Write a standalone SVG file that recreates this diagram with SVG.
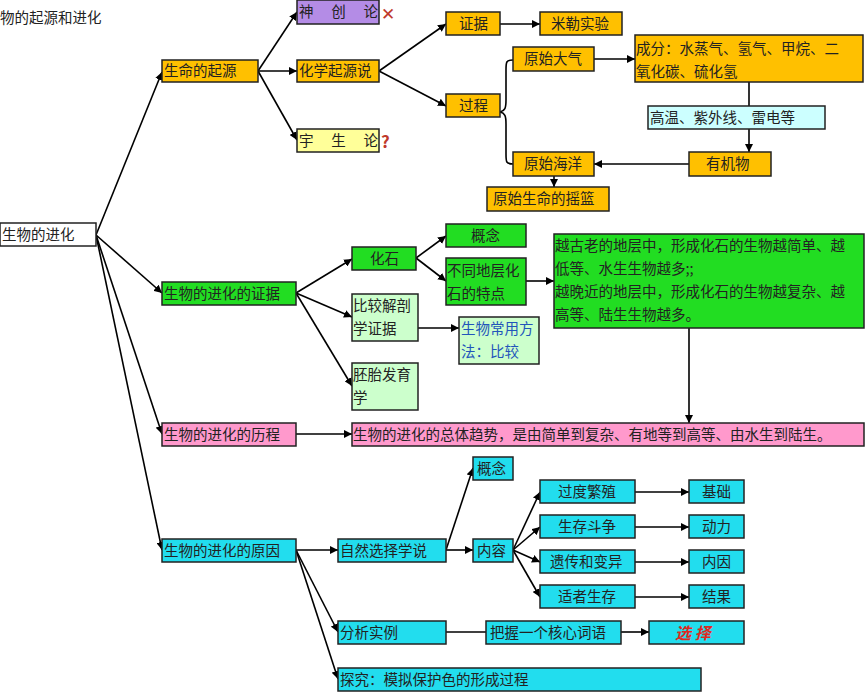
<svg xmlns="http://www.w3.org/2000/svg" width="866" height="693" viewBox="0 0 866 693">
<defs>
<marker id="ah" viewBox="0 0 10 10" refX="10" refY="5" markerWidth="8" markerHeight="8" markerUnits="userSpaceOnUse" orient="auto"><path d="M0,0 L10,5 L0,10 z" fill="#000"/></marker>
<style>
text{font-family:"Noto Sans CJK SC","Noto Sans",sans-serif;font-size:14.5px;fill:#222}
rect{stroke:#222;stroke-width:1.5}
.o{fill:#FFC000}.p{fill:#B48CE6}.y{fill:#FFFF99}.lc{fill:#CCFFFF}.g{fill:#22DD22}.lg{fill:#CCFFCC}.pk{fill:#FF99CC}.c{fill:#22DDEE}.w{fill:#fff}
.cn line,.cn path,.cn polyline{stroke:#000;stroke-width:1.6;fill:none}
.a{marker-end:url(#ah)}
</style>
</defs>
<text x="0" y="23">物的起源和进化</text>
<g class="cn">
<line class="a" x1="96" y1="235" x2="162" y2="72"/>
<line class="a" x1="96" y1="235" x2="162" y2="293"/>
<line class="a" x1="96" y1="235" x2="162" y2="434"/>
<line class="a" x1="96" y1="235" x2="162" y2="550"/>
<line class="a" x1="258" y1="71" x2="297" y2="12"/>
<line class="a" x1="258" y1="71" x2="297" y2="71"/>
<line class="a" x1="258" y1="71" x2="297" y2="140"/>
<line class="a" x1="379" y1="71" x2="446" y2="24"/>
<line class="a" x1="379" y1="71" x2="446" y2="106"/>
<line class="a" x1="500" y1="24" x2="540" y2="24"/>
<path d="M513,60 C506,60 506,62 506,70 L506,100 C506,108 505,111 500,112 C505,113 506,116 506,124 L506,154 C506,162 506,164 513,164"/>
<line class="a" x1="594" y1="59" x2="635" y2="59"/>
<line class="a" x1="749" y1="82" x2="749" y2="152"/>
<line class="a" x1="689" y1="164" x2="594" y2="164"/>
<line class="a" x1="554" y1="176" x2="554" y2="187"/>
<line class="a" x1="296" y1="293" x2="352" y2="259"/>
<line class="a" x1="296" y1="293" x2="352" y2="317"/>
<line class="a" x1="296" y1="293" x2="352" y2="386"/>
<line class="a" x1="416" y1="258" x2="446" y2="236"/>
<line class="a" x1="416" y1="258" x2="446" y2="281"/>
<line class="a" x1="526" y1="281" x2="554" y2="281"/>
<line class="a" x1="418" y1="328" x2="459" y2="328"/>
<line class="a" x1="689" y1="328" x2="689" y2="423"/>
<line class="a" x1="296" y1="434" x2="352" y2="434"/>
<line class="a" x1="296" y1="550" x2="338" y2="550"/>
<line class="a" x1="296" y1="550" x2="338" y2="632"/>
<line class="a" x1="296" y1="550" x2="338" y2="679"/>
<line class="a" x1="446" y1="550" x2="473" y2="468"/>
<line class="a" x1="446" y1="550" x2="473" y2="550"/>
<line class="a" x1="513" y1="550" x2="540" y2="492"/>
<line class="a" x1="513" y1="550" x2="540" y2="527"/>
<line class="a" x1="513" y1="550" x2="540" y2="562"/>
<line class="a" x1="513" y1="550" x2="540" y2="597"/>
<line class="a" x1="635" y1="492" x2="689" y2="492"/>
<line class="a" x1="635" y1="527" x2="689" y2="527"/>
<line class="a" x1="635" y1="562" x2="689" y2="562"/>
<line class="a" x1="635" y1="597" x2="689" y2="597"/>
<line x1="446" y1="632" x2="486" y2="632"/>
<line class="a" x1="621" y1="632" x2="649" y2="632"/>
</g>
<g id="root"><rect class="w" x="0" y="223" width="96" height="23"/><text x="2" y="240">生物的进化</text></g>
<g id="origin"><rect class="o" x="162" y="60" width="96" height="22"/><text x="164" y="76">生命的起源</text></g>
<g id="shen"><rect class="p" x="297" y="0" width="82" height="24"/><text x="299" y="17" fill="#333">神 　创 　论</text><text x="381" y="20" style="font-size:17px;fill:#c0392b">✕</text></g>
<g id="chem"><rect class="o" x="297" y="60" width="82" height="22"/><text x="299" y="76">化学起源说</text></g>
<g id="yu"><rect class="y" x="297" y="129" width="82" height="23"/><text x="299" y="146">宇 　生 　论</text><text x="381" y="148" style="font-size:17px;font-weight:bold;fill:#c0392b">?</text></g>
<g id="zj"><rect class="o" x="446" y="12" width="54" height="23"/><text x="459" y="29">证据</text></g>
<g id="miller"><rect class="o" x="540" y="12" width="82" height="23"/><text x="551" y="29">米勒实验</text></g>
<g id="gc"><rect class="o" x="446" y="94" width="54" height="23"/><text x="459" y="111">过程</text></g>
<g id="dq"><rect class="o" x="513" y="47" width="81" height="24"/><text x="524" y="64">原始大气</text></g>
<g id="cf"><rect class="o" x="635" y="35" width="228" height="47"/><text x="636" y="54">成分：水蒸气、氢气、甲烷、二</text><text x="636" y="77">氧化碳、硫化氢</text></g>
<g id="gw"><rect class="lc" x="648" y="106" width="177" height="23"/><text x="650" y="123">高温、紫外线、雷电等</text></g>
<g id="yjw"><rect class="o" x="689" y="152" width="82" height="24"/><text x="706" y="169">有机物</text></g>
<g id="hy"><rect class="o" x="513" y="152" width="81" height="24"/><text x="524" y="169">原始海洋</text></g>
<g id="yl"><rect class="o" x="487" y="187" width="122" height="24"/><text x="493" y="204">原始生命的摇篮</text></g>
<g id="ev"><rect class="g" x="162" y="282" width="134" height="23"/><text x="164" y="299">生物的进化的证据</text></g>
<g id="hs"><rect class="g" x="352" y="247" width="64" height="23"/><text x="370" y="264">化石</text></g>
<g id="gn1"><rect class="g" x="446" y="224" width="80" height="23"/><text x="471" y="241">概念</text></g>
<g id="btdc"><rect class="g" x="446" y="258" width="80" height="47"/><text x="447" y="276">不同地层化</text><text x="447" y="299">石的特点</text></g>
<g id="big"><rect class="g" x="554" y="234" width="310" height="94"/><text x="555" y="251">越古老的地层中，形成化石的生物越简单、越</text><text x="555" y="274">低等、水生生物越多;;</text><text x="555" y="297">越晚近的地层中，形成化石的生物越复杂、越</text><text x="555" y="320">高等、陆生生物越多。</text></g>
<g id="bj"><rect class="lg" x="352" y="294" width="66" height="47"/><text x="353" y="311">比较解剖</text><text x="353" y="334">学证据</text></g>
<g id="ff"><rect class="lg" x="459" y="317" width="80" height="47"/><text x="461" y="334" style="fill:#2255bb">生物常用方</text><text x="461" y="357" style="fill:#2255bb">法：比较</text></g>
<g id="pt"><rect class="lg" x="352" y="363" width="66" height="47"/><text x="353" y="380">胚胎发育</text><text x="353" y="403">学</text></g>
<g id="lc"><rect class="pk" x="162" y="423" width="134" height="23"/><text x="164" y="440">生物的进化的历程</text></g>
<g id="qs"><rect class="pk" x="352" y="423" width="512" height="23"/><text x="353" y="440">生物的进化的总体趋势，是由简单到复杂、有地等到高等、由水生到陆生。</text></g>
<g id="yy"><rect class="c" x="162" y="539" width="134" height="23"/><text x="164" y="556">生物的进化的原因</text></g>
<g id="zr"><rect class="c" x="338" y="539" width="108" height="23"/><text x="340" y="556">自然选择学说</text></g>
<g id="gn2"><rect class="c" x="473" y="457" width="40" height="23"/><text x="477" y="474">概念</text></g>
<g id="nr"><rect class="c" x="473" y="539" width="40" height="23"/><text x="477" y="556">内容</text></g>
<g id="gd"><rect class="c" x="540" y="480" width="95" height="23"/><text x="558" y="497">过度繁殖</text></g>
<g id="sc"><rect class="c" x="540" y="515" width="95" height="23"/><text x="558" y="532">生存斗争</text></g>
<g id="yc"><rect class="c" x="540" y="550" width="95" height="23"/><text x="550" y="567">遗传和变异</text></g>
<g id="sz"><rect class="c" x="540" y="585" width="95" height="23"/><text x="558" y="602">适者生存</text></g>
<g id="jc"><rect class="c" x="689" y="480" width="55" height="23"/><text x="702" y="497">基础</text></g>
<g id="dl"><rect class="c" x="689" y="515" width="55" height="23"/><text x="702" y="532">动力</text></g>
<g id="ny"><rect class="c" x="689" y="550" width="55" height="23"/><text x="702" y="567">内因</text></g>
<g id="jg"><rect class="c" x="689" y="585" width="55" height="23"/><text x="702" y="602">结果</text></g>
<g id="fx"><rect class="c" x="338" y="621" width="108" height="23"/><text x="340" y="638">分析实例</text></g>
<g id="bw"><rect class="c" x="486" y="621" width="135" height="23"/><text x="490" y="638">把握一个核心词语</text></g>
<g id="xz"><rect class="c" x="649" y="621" width="95" height="23"/><text x="675" y="639" style="fill:#e0281e;font-weight:bold;font-style:italic;font-size:16px">选 择</text></g>
<g id="tj"><rect class="c" x="338" y="668" width="363" height="23"/><text x="340" y="685">探究：模拟保护色的形成过程</text></g>
</svg>
